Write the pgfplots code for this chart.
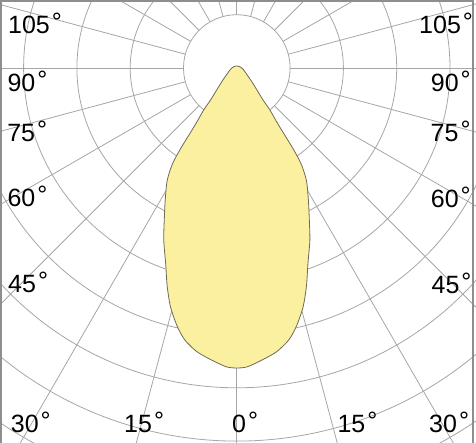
\documentclass[border=0pt]{standalone}
\usepackage{pgfplots}
\usepackage{pgfplotstable}
\pgfplotsset{compat=1.18}
\usepackage{fontspec}
\setmainfont{Liberation Sans}
\definecolor{gridc}{HTML}{A6A6A6}
\definecolor{fillc}{HTML}{FAF0A0}
\definecolor{linec}{HTML}{6E6A58}
\definecolor{framec}{HTML}{8E8E8E}
\newcommand\lbl{\fontsize{25}{25}\selectfont}
\newcommand\dg{\hspace{2pt}\raisebox{3pt}{°}}

% luminous intensity curve: gamma (deg from nadir), radius (drawing units)
\pgfplotstableread{
g r
-180 2
-120 3
-90 5
-75 7
-57 12
-49 18.5
-42.4 30
-39.4 41
-38.2 54
-36.5 67
-35.6 81
-34.9 98
-33.9 115
-31.8 132
-28.5 150
-25.5 168.5
-23 187
-20 208
-17.7 229
-15.5 248
-13 265
-10.8 277
-8 286.5
-5 293
-2 299
0 300
2 299
5 293
8 286.5
10.8 277
13 265
15.5 248
17.7 229
20 208
23 187
25.5 168.5
28.5 150
31.8 132
33.9 115
34.9 98
35.6 81
36.5 67
38.2 54
39.4 41
42.4 30
49 18.5
57 12
75 7
90 5
120 3
180 2
}\lobe

\begin{document}
\begin{tikzpicture}
\useasboundingbox (0,0) rectangle (476pt,443pt);
\begin{axis}[
  scale only axis, width=476pt, height=443pt,
  xmin=-236.8, xmax=239.2, ymin=-375, ymax=68,
  axis line style={draw=none}, xtick=\empty, ytick=\empty,
  clip=true,
]
% grid circles
\pgfplotsinvokeforeach{1,...,8}{
  \draw[gridc, line width=0.8pt] (axis cs:0,0) circle[radius={53.3*#1}];
}
% grid rays, starting at the first circle
\pgfplotsinvokeforeach{0,15,...,345}{
  \draw[gridc, line width=0.8pt] (axis cs:{53.3*cos(#1)},{53.3*sin(#1)}) -- (axis cs:{700*cos(#1)},{700*sin(#1)});
}
% curve
\addplot[fill=fillc, draw=linec, line width=0.8pt, smooth, tension=0.45]
  table[x expr={\thisrow{r}*sin(\thisrow{g})}, y expr={-\thisrow{r}*cos(\thisrow{g})}] {\lobe};
% labels left
\node[anchor=base west, inner sep=0, font=\lbl] at (axis cs:-228.8,34.5) {105\dg};
\node[anchor=base west, inner sep=0, font=\lbl] at (axis cs:-229.5,-23.5) {90\dg};
\node[anchor=base west, inner sep=0, font=\lbl] at (axis cs:-229.7,-73.5) {75\dg};
\node[anchor=base west, inner sep=0, font=\lbl] at (axis cs:-229.5,-139) {60\dg};
\node[anchor=base west, inner sep=0, font=\lbl] at (axis cs:-228.8,-225) {45\dg};
% labels right
\node[anchor=base west, inner sep=0, font=\lbl] at (axis cs:182.2,34.7) {105\dg};
\node[anchor=base west, inner sep=0, font=\lbl] at (axis cs:193.9,-23.7) {90\dg};
\node[anchor=base west, inner sep=0, font=\lbl] at (axis cs:193.7,-74) {75\dg};
\node[anchor=base west, inner sep=0, font=\lbl] at (axis cs:193.9,-140) {60\dg};
\node[anchor=base west, inner sep=0, font=\lbl] at (axis cs:194.6,-225.3) {45\dg};
% labels bottom
\node[anchor=base west, inner sep=0, font=\lbl] at (axis cs:-226.1,-364.5) {30\dg};
\node[anchor=base west, inner sep=0, font=\lbl] at (axis cs:-112.8,-364.5) {15\dg};
\node[anchor=base west, inner sep=0, font=\lbl] at (axis cs:-4.8,-364.5) {0\dg};
\node[anchor=base west, inner sep=0, font=\lbl] at (axis cs:100.5,-364.5) {15\dg};
\node[anchor=base west, inner sep=0, font=\lbl] at (axis cs:192.2,-364.5) {30\dg};
% frame (left, top, right)
\draw[framec, line width=1.8pt] (axis cs:-236.0,-375) -- (axis cs:-236.0,67.1) -- (axis cs:236.0,67.1) -- (axis cs:236.0,-375);
\end{axis}
\end{tikzpicture}
\end{document}
